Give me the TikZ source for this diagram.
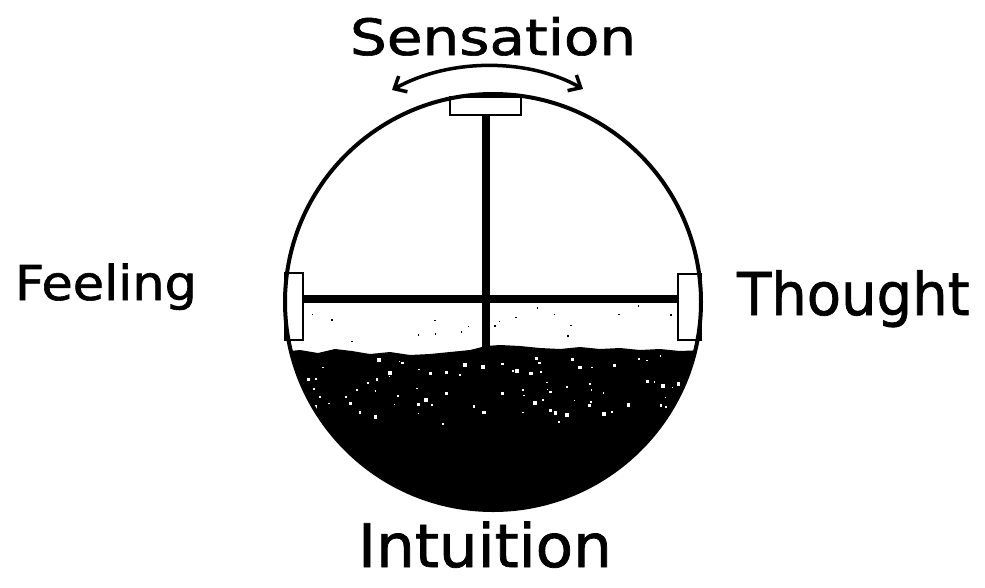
\documentclass[tikz,border=0pt]{standalone}
\usepackage{fontspec}
\setmainfont{DejaVu Sans}
\newfontfamily\handfont{DejaVu Sans}[FakeBold=1.2]
\usetikzlibrary{arrows.meta}
\begin{document}
\begin{tikzpicture}[x=1pt,y=-1pt,
  lbl/.style={anchor=base west,inner sep=0pt,outer sep=0pt},
  bar/.style={line width=8pt},
  slot/.style={draw,fill=white,line width=2.5pt},
  swing/.style={line width=3.5pt,>={Straight Barb[length=10pt,width=18pt]},<->}]
\useasboundingbox (0,0) rectangle (985,587);
\fill[white] (0,0) rectangle (985,587);
% dark lower region
\begin{scope}
\clip (493,302) circle (208);
\fill[black] (280,352) -- (300,350) -- (318,353) -- (335,349) -- (352,351) -- (370,354) -- (390,352) -- (410,355) -- (430,354) -- (450,352) -- (470,350) -- (486,346) -- (500,345) -- (520,346) -- (540,348) -- (560,349) -- (580,347) -- (600,349) -- (620,348) -- (640,350) -- (660,349) -- (680,351) -- (705,350) -- (705,520) -- (280,520) -- cycle;
\pgfmathsetseed{11}
\foreach \i in {1,...,90}{
  \pgfmathsetmacro{\rx}{295+400*rnd}
  \pgfmathsetmacro{\ry}{355+70*rnd}
  \pgfmathsetmacro{\rs}{1+3*rnd}
  \fill[white] (\rx,\ry) rectangle ++(\rs,\rs);
}
\foreach \i in {1,...,18}{
  \pgfmathsetmacro{\rx}{310+370*rnd}
  \pgfmathsetmacro{\ry}{305+40*rnd}
  \fill[black] (\rx,\ry) rectangle ++(1.5,1.5);
}
\end{scope}
% bars
\draw[bar] (486,114) -- (486,350);
\draw[bar] (303,299) -- (678,299);
% slots
\draw[slot] (450,97) rectangle (521,115);
\draw[slot] (285,273) rectangle (303,340);
\draw[slot] (678,274) rectangle (701,340);
% rim
\node[circle,draw,line width=4pt,minimum size=416pt,inner sep=0pt] (rim) at (493,302) {};
% arrow
\coordinate (arL) at (392,90);
\coordinate (arR) at (583,89);
\draw[swing] (arL) .. controls (450,58) and (528,58) .. (arR);
% labels
\node[lbl] (sens) at (350,55) {\handfont\fontsize{50}{60}\selectfont\scalebox{1.16}[1]{Sensation}};
\node[lbl] (feel) at (15,300) {\handfont\fontsize{48}{58}\selectfont\scalebox{1.06}[1]{Feeling}};
\node[lbl] (thou) at (737,315) {\handfont\fontsize{59}{70}\selectfont\scalebox{0.95}[1]{Thought}};
\node[lbl] (intu) at (358,567) {\handfont\fontsize{60}{70}\selectfont\scalebox{1.02}[1]{Intuition}};
\end{tikzpicture}
\end{document}
